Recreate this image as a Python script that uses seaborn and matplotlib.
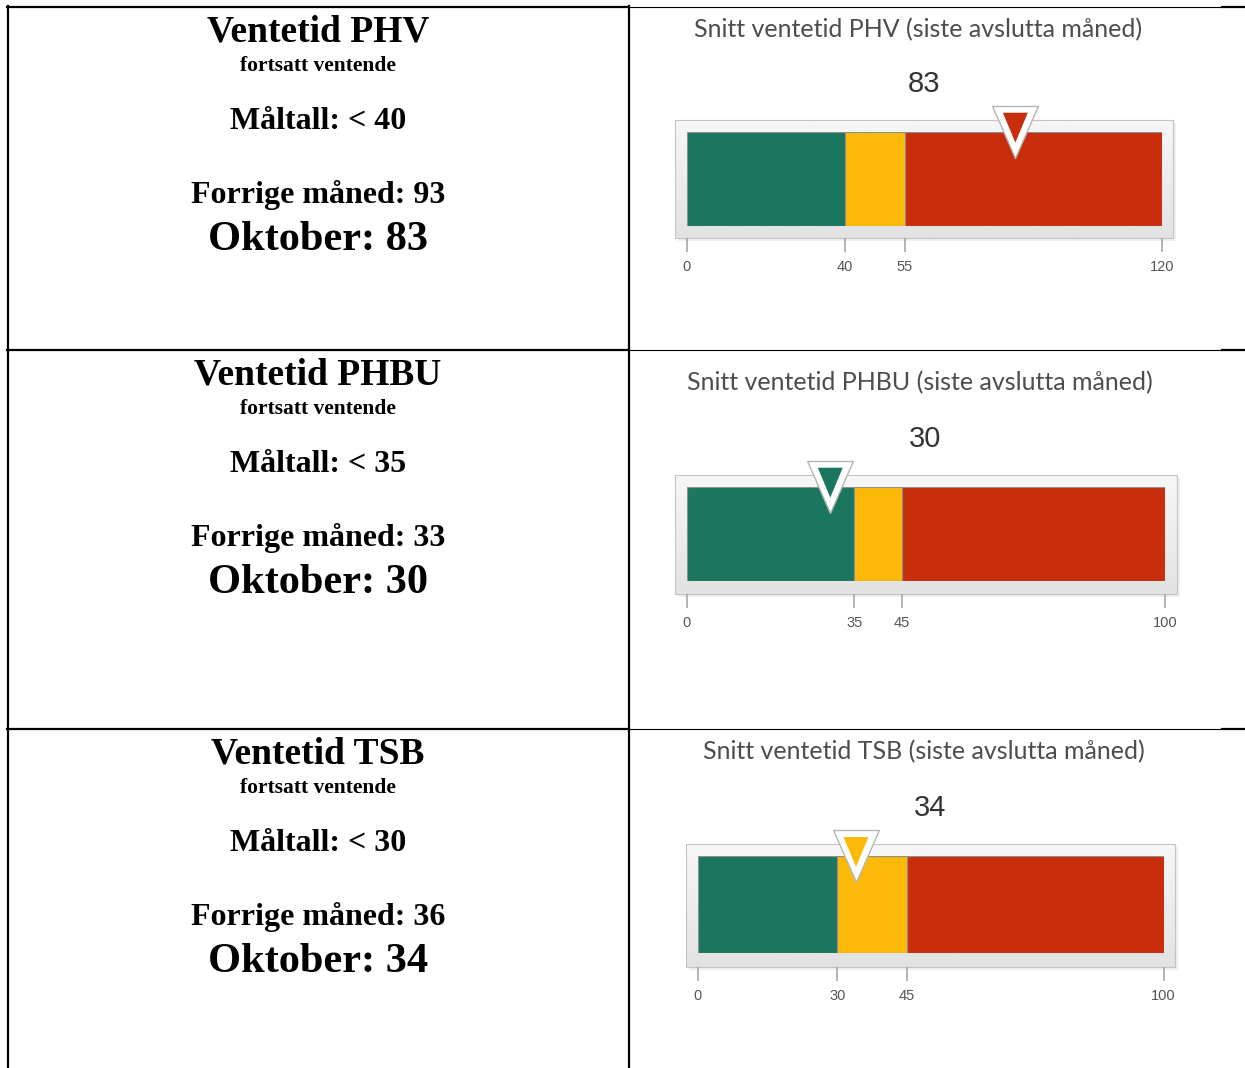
import numpy as np
import matplotlib
matplotlib.use("Agg")
import matplotlib.pyplot as plt
import seaborn as sns
from matplotlib.patches import Rectangle

# ---- data ----
row_titles = ["Ventetid PHV", "Ventetid PHBU", "Ventetid TSB"]
sub_title = "fortsatt ventende"
gauge_titles = ["Snitt ventetid PHV (siste avslutta måned)",
                "Snitt ventetid PHBU (siste avslutta måned)",
                "Snitt ventetid TSB (siste avslutta måned)"]
target_limits = [40, 35, 30]      # green up to here
yellow_limits = [55, 45, 45]      # yellow up to here
scale_max = [120, 100, 100]       # red up to here
previous_month = [93, 33, 36]
current_month = [83, 30, 34]
month_name = "Oktober"

zone_colors = ["#1b7660", "#fdb908", "#c82d0c"]

# ---- layout (pixels in a 1245x1068 canvas) ----
W, H = 1245, 1068
row_tops = [7, 350, 729]
col_split = 628.5
bar_boxes = [(686.8, 131.7, 1161.8, 225.7),
             (686.8, 486.7, 1165.0, 581.0),
             (697.5, 856.0, 1163.6, 953.0)]
frame_boxes = [(675.0, 120.0, 1173.0, 238.0),
               (675.0, 475.0, 1177.0, 594.0),
               (685.7, 844.0, 1175.0, 967.0)]
title_pos = [(918, 30), (920, 383), (924, 752)]
value_pos = [(924, 84), (925, 439), (930, 808)]
left_offsets = [34.7, 64, 122, 196, 243]
left_sizes = [27, 15.5, 23, 23, 30.5]

fig = plt.figure(figsize=(W / 100, H / 100), dpi=100)
fig.patch.set_facecolor("white")

bg = fig.add_axes([0, 0, 1, 1])
bg.axis("off")

# table lines
thick, thin = 1.6, 0.8
bg.plot([7.5, 7.5], [6, H], color="black", lw=thick)
bg.plot([col_split, col_split], [6, H], color="black", lw=thick)
for y in [6.5, row_tops[1], row_tops[2]]:
    bg.plot([7, col_split], [y, y], color="black", lw=thick)
    bg.plot([col_split, 1222], [y, y], color="black", lw=thin)
    bg.plot([1222, W], [y, y], color="black", lw=thick)

# left column text
for i, top in enumerate(row_tops):
    lines = [row_titles[i], sub_title, f"Måltall: < {target_limits[i]}",
             f"Forrige måned: {previous_month[i]}", f"{month_name}: {current_month[i]}"]
    for txt, off, size in zip(lines, left_offsets, left_sizes):
        bg.text(318, top + off, txt, ha="center", va="baseline", fontsize=size,
                fontweight="bold", family="Liberation Serif", color="black")

# gauge frames and labels
grad = np.linspace(0.965, 0.885, 64).reshape(-1, 1)
for i in range(3):
    fx0, fy0, fx1, fy1 = frame_boxes[i]
    bg.add_patch(Rectangle((fx0 + 3, fy0 + 3), fx1 - fx0, fy1 - fy0,
                           facecolor="#efefef", edgecolor="none", zorder=0.5))
    bg.imshow(grad, extent=(fx0, fx1, fy1, fy0), cmap="gray", vmin=0, vmax=1,
              aspect="auto", zorder=1)
    bg.add_patch(Rectangle((fx0, fy0), fx1 - fx0, fy1 - fy0, fill=False,
                           edgecolor="#c4c4c4", lw=0.8, zorder=2))
    bg.text(*title_pos[i], gauge_titles[i], ha="center", va="center",
            fontsize=18, family="Lato", color="#4d4d4d")
    bg.text(*value_pos[i], str(current_month[i]), ha="center", va="center",
            fontsize=21, family="Liberation Sans", color="#333333")

bg.set_xlim(0, W)
bg.set_ylim(H, 0)

# marker shapes (downward triangle and its inset)
outer_tri = [(-0.88, 1.0), (0.88, 1.0), (0.0, -1.0), (-0.88, 1.0)]
inner_tri = [(-0.48, 0.73), (0.48, 0.73), (0.0, -0.42), (-0.48, 0.73)]
outer_s = 1400

for i in range(3):
    x0, y0, x1, y1 = bar_boxes[i]
    ax = fig.add_axes([x0 / W, 1 - y1 / H, (x1 - x0) / W, (y1 - y0) / H])
    ax.set_zorder(3)
    ax.patch.set_alpha(0)

    bounds = [scale_max[i], yellow_limits[i], target_limits[i]]
    for upper, col in zip(bounds, zone_colors[::-1]):
        sns.barplot(x=[upper], y=[0], orient="h", color=col, width=1,
                    saturation=1, edgecolor="#8f8f8f", linewidth=0.8, ax=ax)

    v = current_month[i]
    zone = 0 if v < target_limits[i] else (1 if v < yellow_limits[i] else 2)
    sns.scatterplot(x=[v], y=[-0.5], marker=outer_tri, s=outer_s, color="white",
                    edgecolor="#b5b5b5", linewidth=1, clip_on=False, zorder=5,
                    legend=False, ax=ax)
    sns.scatterplot(x=[v], y=[-0.5], marker=inner_tri, s=outer_s * 0.73 ** 2,
                    color=zone_colors[zone], edgecolor="none", linewidth=0,
                    clip_on=False, zorder=6, legend=False, ax=ax)

    ticks = [0, target_limits[i], yellow_limits[i], scale_max[i]]
    ax.set_xlim(0, scale_max[i])
    ax.set_ylim(0.5, -0.5)
    ax.set_xticks(ticks)
    ax.set_xticklabels([str(t) for t in ticks])
    ax.set_yticks([])
    ax.set_xlabel("")
    ax.set_ylabel("")
    for s in ["top", "right", "left"]:
        ax.spines[s].set_visible(False)
    ax.spines["bottom"].set_position(("outward", (frame_boxes[i][3] - y1) * 0.72))
    ax.spines["bottom"].set_visible(False)
    ax.tick_params(axis="x", length=10, width=1.1, color="#a0a0a0", pad=5.5,
                   labelsize=10.5, labelcolor="#555555")
    for lbl in ax.get_xticklabels():
        lbl.set_fontfamily("Liberation Sans")

fig.savefig("out.png", dpi=100, facecolor="white")
